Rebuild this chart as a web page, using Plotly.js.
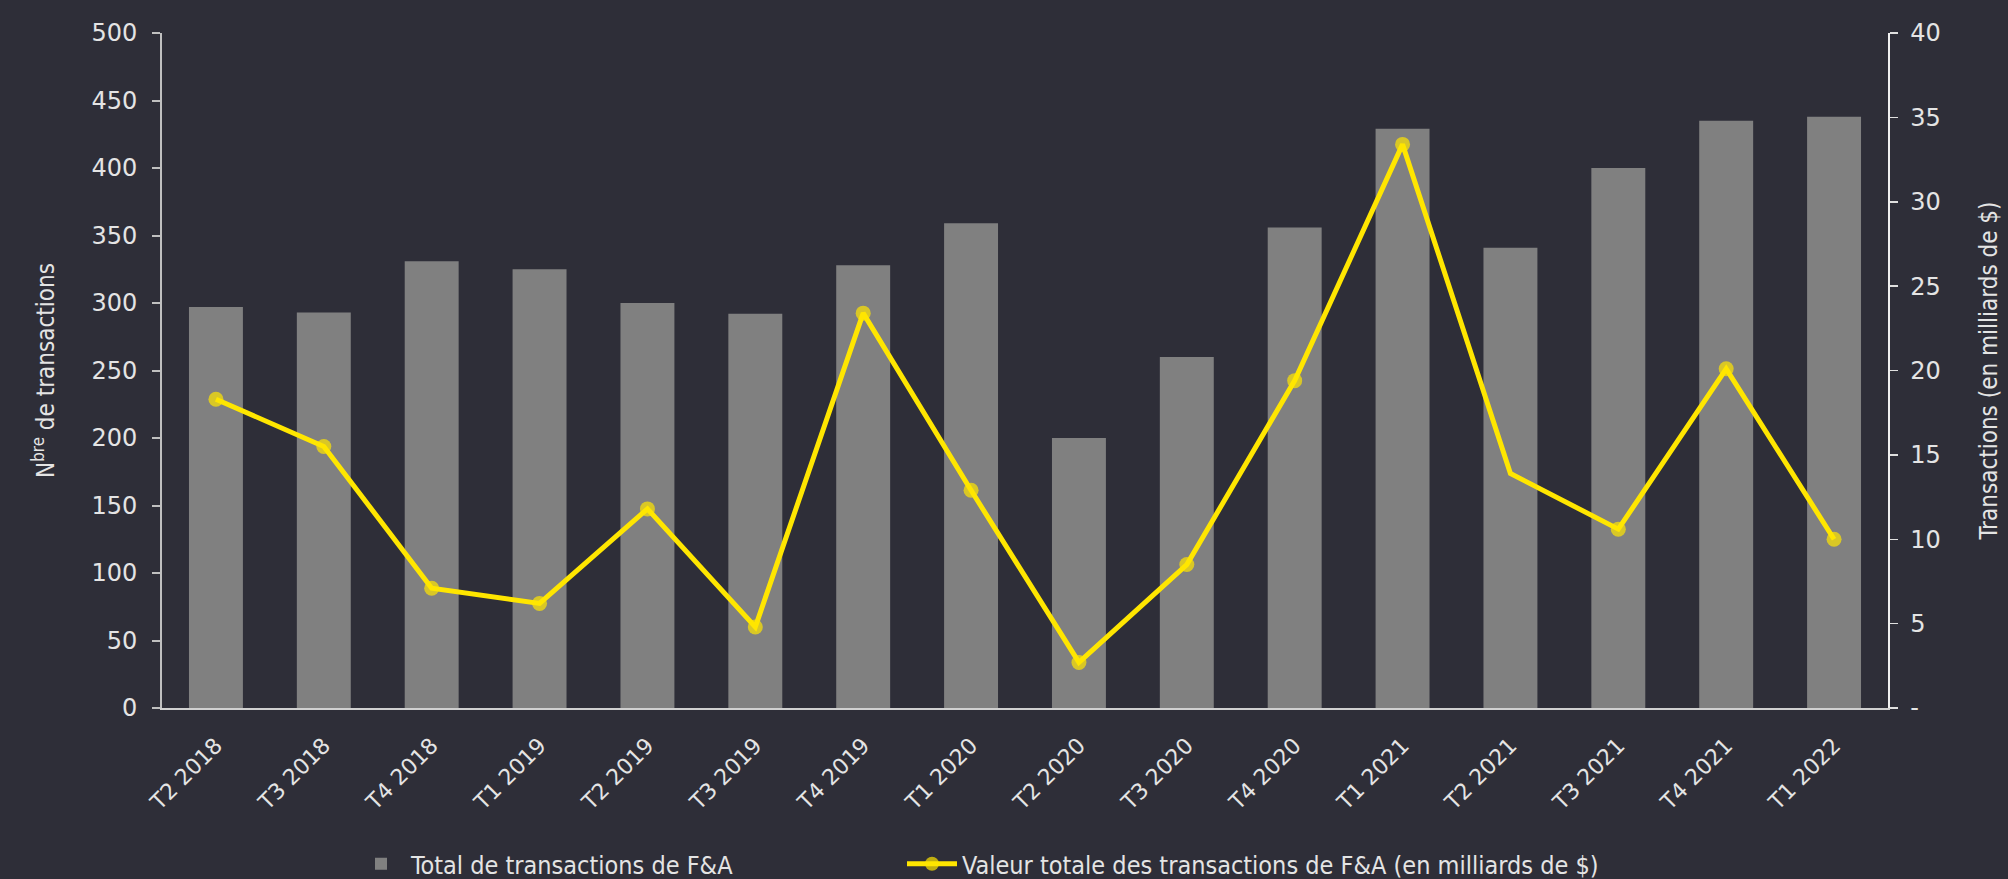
<!DOCTYPE html>
<html>
<head>
<meta charset="utf-8">
<script src="https://cdn.plot.ly/plotly-3.0.1.min.js"></script>
<style>
  html, body { margin: 0; padding: 0; background: #2e2e38; }
  #chart { width: 2008px; height: 879px; }
</style>
</head>
<body>
<div id="chart"></div>
<script>
const categories = ['T2 2018','T3 2018','T4 2018','T1 2019','T2 2019','T3 2019','T4 2019','T1 2020',
                    'T2 2020','T3 2020','T4 2020','T1 2021','T2 2021','T3 2021','T4 2021','T1 2022'];
const dealCount = [297, 293, 331, 325, 300, 292, 328, 359, 200, 260, 356, 429, 341, 400, 435, 438];
const dealValue = [18.3, 15.5, 7.1, 6.2, 11.8, 4.8, 23.4, 12.9, 2.7, 8.5, 19.4, 33.4, 13.9, 10.6, 20.1, 10.0];
const leftTicks = [0, 50, 100, 150, 200, 250, 300, 350, 400, 450, 500];
const rightTicks = [0, 5, 10, 15, 20, 25, 30, 35, 40];
const rightTickText = ['-', '5', '10', '15', '20', '25', '30', '35', '40'];

const BG = '#2e2e38';
const numFont = { family: 'DejaVu Sans, sans-serif', size: 24, color: '#e4e4e4' };
const condFont = 'DejaVu Sans Condensed, Liberation Sans Narrow, sans-serif';
const legendFont = { family: condFont, size: 25, color: '#e4e4e4' };

const traces = [
  {
    type: 'bar', name: 'Total de transactions de F&A',
    x: categories, y: dealCount, yaxis: 'y', legend: 'legend',
    marker: { color: '#808080', line: { width: 0 } }
  },
  {
    type: 'scatter', mode: 'lines+markers',
    name: 'Valeur totale des transactions de F&A (en milliards de $)',
    x: categories, y: dealValue, yaxis: 'y2', legend: 'legend2',
    line: { color: '#ffe600', width: 5 },
    marker: { color: '#ffe600', line: { width: 0 },
              size: categories.map(c => c === 'T2 2021' ? 0 : 15) }
  }
];

const legendBase = {
  orientation: 'h', xref: 'container', yref: 'container',
  xanchor: 'left', y: 1 - 864 / 879, yanchor: 'middle',
  font: legendFont, itemwidth: 50, bgcolor: 'rgba(0,0,0,0)', borderwidth: 0
};

const layout = {
  width: 2008, height: 879,
  paper_bgcolor: BG, plot_bgcolor: BG,
  margin: { l: 162, r: 120, t: 33, b: 171 },
  bargap: 0.5,
  showlegend: true,
  legend: Object.assign({}, legendBase, { x: 351 / 2008 }),
  legend2: Object.assign({}, legendBase, { x: 902 / 2008 }),
  xaxis: {
    type: 'category', tickangle: -45, range: [-0.5, categories.length - 0.5],
    tickfont: { family: 'DejaVu Sans, sans-serif', size: 22, color: '#e4e4e4' },
    ticklabelstandoff: 14,
    showline: true, linecolor: '#d0d0d0', linewidth: 2,
    ticks: '', showgrid: false, zeroline: false
  },
  yaxis: {
    range: [0, 500], tickvals: leftTicks, ticktext: leftTicks.map(String),
    tickfont: numFont,
    showline: true, linecolor: '#c0c0c0', linewidth: 2,
    ticks: 'outside', ticklen: 8, tickwidth: 2, tickcolor: '#c0c0c0',
    ticklabelstandoff: 10,
    showgrid: false, zeroline: false,
    title: { text: 'N<sup>bre</sup> de transactions', font: { family: condFont, size: 24, color: '#e4e4e4' }, standoff: 30 }
  },
  yaxis2: {
    overlaying: 'y', side: 'right', anchor: 'x',
    range: [0, 40], tickvals: rightTicks, ticktext: rightTickText,
    tickfont: numFont,
    showline: true, linecolor: '#f0f0f0', linewidth: 1.5,
    ticks: 'outside', ticklen: 8, tickwidth: 1.5, tickcolor: '#e0e0e0',
    ticklabelstandoff: 8,
    showgrid: false, zeroline: false,
    title: { text: 'Transactions (en milliards de $)', font: { family: condFont, size: 24, color: '#e4e4e4' }, standoff: 40 }
  },
  yaxis3: {
    overlaying: 'y', side: 'left', anchor: 'x',
    range: [0, 500], tickvals: leftTicks, showticklabels: false,
    ticks: 'inside', ticklen: 8, tickwidth: 2, tickcolor: '#c0c0c0',
    showline: false, showgrid: false, zeroline: false
  },
  yaxis4: {
    overlaying: 'y', side: 'right', anchor: 'x',
    range: [0, 40], tickvals: rightTicks, showticklabels: false,
    ticks: 'inside', ticklen: 8, tickwidth: 1.5, tickcolor: '#e0e0e0',
    showline: false, showgrid: false, zeroline: false
  }
};

Plotly.newPlot('chart', traces, layout, { displayModeBar: false, staticPlot: true });
</script>
</body>
</html>
